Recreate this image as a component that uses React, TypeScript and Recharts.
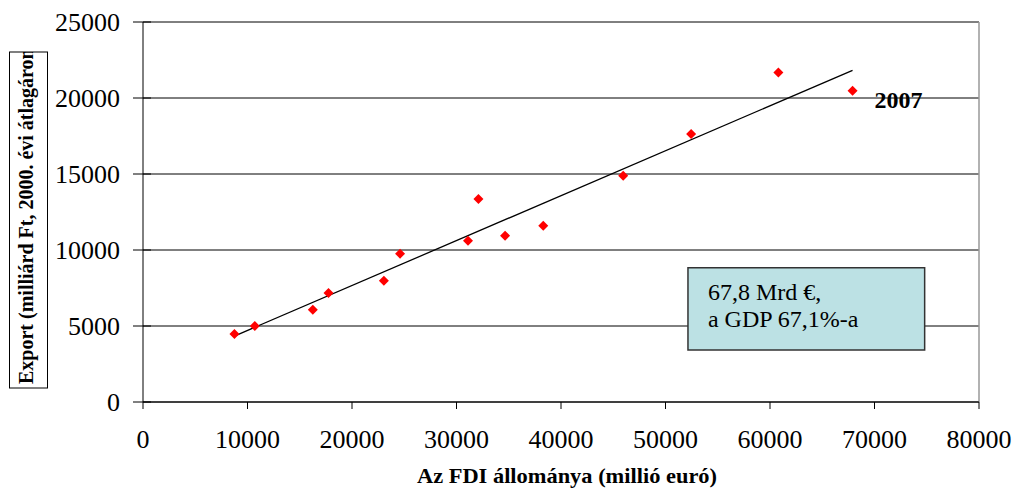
import { ScatterChart, Scatter, XAxis, YAxis, CartesianGrid, ReferenceLine, ReferenceArea } from 'recharts';

// FDI stock (million EUR) vs export (billion HUF, 2000 prices)
const fdiStock = [8750, 10700, 16250, 17750, 23050, 24600, 31100, 32100, 34650, 38300, 45950, 52450, 60800, 67900];
const exportValues = [4470, 5000, 6070, 7170, 7980, 9760, 10610, 13350, 10940, 11600, 14890, 17630, 21670, 20480];
const pointLabels = ['', '', '', '', '', '', '', '', '', '', '', '', '', '2007'];

// trend line end points
const trendX = [8750, 67900];
const trendY = [4340, 21820];

const xTicks = [0, 10000, 20000, 30000, 40000, 50000, 60000, 70000, 80000];
const yTicks = [0, 5000, 10000, 15000, 20000, 25000];

const noteLines = ['67,8 Mrd €,', 'a GDP 67,1%-a'];

const FONT = '"Liberation Serif", "Times New Roman", serif';

const points = fdiStock.map((x, i) => ({ x, y: exportValues[i], label: pointLabels[i] }));
const trend = trendX.map((x, i) => ({ x, y: trendY[i] }));

const Diamond = (props: any) => {
  const { cx, cy, payload } = props;
  const r = 5;
  return (
    <g>
      <polygon points={`${cx},${cy - r} ${cx + r},${cy} ${cx},${cy + r} ${cx - r},${cy}`} fill="#ff0000" />
      {payload && payload.label ? (
        <text x={cx + 22} y={cy + 17} fontFamily={FONT} fontWeight="bold" fontSize={24} fill="#000">
          {payload.label}
        </text>
      ) : null}
    </g>
  );
};

const YTick = (props: any) => {
  const { x, y, payload } = props;
  return (
    <g>
      <line x1={x - 10} x2={x + 8} y1={y} y2={y} stroke="#000" />
      <text x={x - 23} y={y} dy="0.35em" textAnchor="end" fontFamily={FONT} fontSize={26} fill="#000">
        {payload.value}
      </text>
    </g>
  );
};

const NoteLabel = (props: any) => {
  const vb = props.viewBox || {};
  return (
    <text fontFamily={FONT} fontSize={24} fill="#000">
      <tspan x={vb.x + 20} y={vb.y + 32}>{noteLines[0]}</tspan>
      <tspan x={vb.x + 20} y={vb.y + 59}>{noteLines[1]}</tspan>
    </text>
  );
};

export default function App() {
  return (
    <div style={{ position: 'absolute', left: 0, top: 0, width: 1015, height: 489, background: '#fff' }}>
      <ScatterChart width={1015} height={489} margin={{ top: 22, right: 36, bottom: 0, left: 0 }}>
        <CartesianGrid horizontal vertical={false} stroke="#000" />
        <XAxis
          type="number"
          dataKey="x"
          domain={[0, 80000]}
          ticks={xTicks}
          height={87}
          axisLine={{ stroke: '#000' }}
          tickLine={{ stroke: '#000' }}
          tickSize={7}
          tickMargin={21}
          tick={{ fontSize: 26, fill: '#000', fontFamily: FONT }}
          interval={0}
        />
        <YAxis
          type="number"
          dataKey="y"
          domain={[0, 25000]}
          ticks={yTicks}
          width={143}
          axisLine={{ stroke: '#000' }}
          tickLine={false}
          tickSize={0}
          tickMargin={0}
          tick={<YTick />}
          interval={0}
        />
        <ReferenceLine x={80000} stroke="#999" strokeWidth={1.5} />
        <ReferenceArea
          x1={52150}
          x2={74800}
          y1={3420}
          y2={8840}
          fill="#bce1e4"
          fillOpacity={1}
          stroke="#333"
          strokeWidth={1.5}
          label={<NoteLabel />}
        />
        <Scatter
          data={trend}
          line={{ stroke: '#000', strokeWidth: 1.3 }}
          shape={() => <g />}
          isAnimationActive={false}
        />
        <Scatter data={points} shape={<Diamond />} isAnimationActive={false} />
      </ScatterChart>
      <svg width={1015} height={489} style={{ position: 'absolute', left: 0, top: 0, pointerEvents: 'none' }}>
        <defs>
          <clipPath id="ytitle-clip">
            <rect x={9.5} y={52} width={38} height={336} />
          </clipPath>
        </defs>
        <rect x={9.5} y={52} width={38} height={336} fill="#fff" stroke="#000" />
        <g clipPath="url(#ytitle-clip)">
          <text
            transform="translate(33,384) rotate(-90)"
            fontFamily={FONT}
            fontWeight="bold"
            fontSize={20}
            fill="#000"
          >
            Export (milliárd Ft, 2000. évi átlagáron)
          </text>
        </g>
        <text
          x={567}
          y={483}
          textAnchor="middle"
          fontFamily={FONT}
          fontWeight="bold"
          fontSize={21}
          textLength={300}
          lengthAdjust="spacingAndGlyphs"
          fill="#000"
        >
          Az FDI állománya (millió euró)
        </text>
      </svg>
    </div>
  );
}
